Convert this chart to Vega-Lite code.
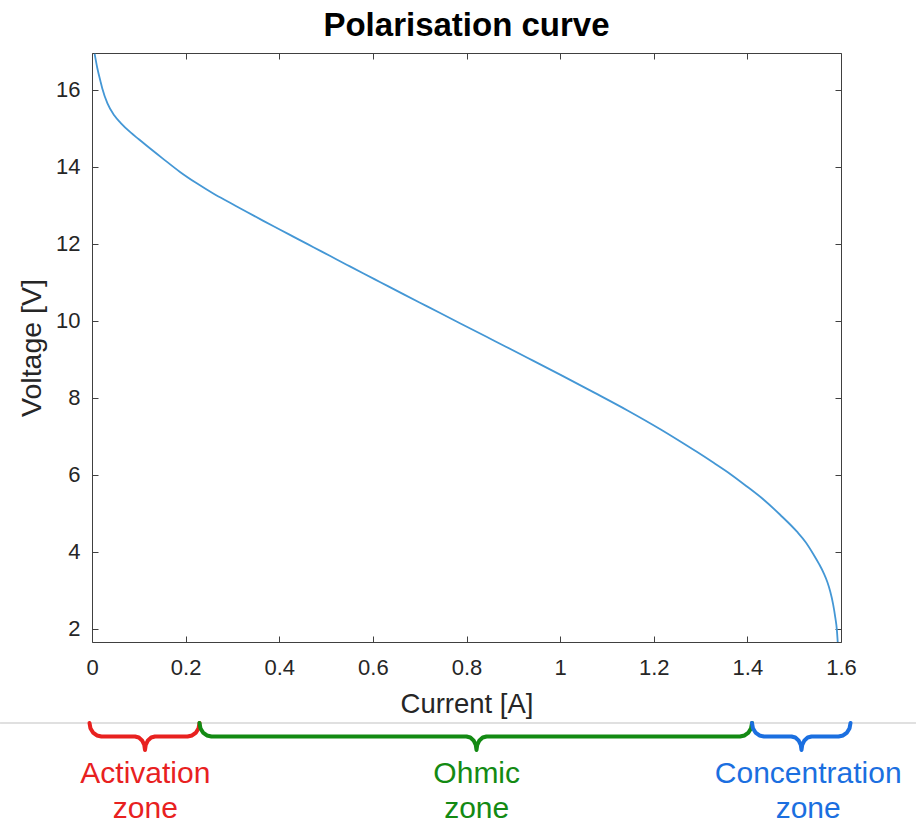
{
  "$schema": "https://vega.github.io/schema/vega-lite/v6.json",
  "width": 749,
  "height": 589,
  "autosize": {"type": "none"},
  "padding": {"left": 92, "top": 53, "right": 75, "bottom": 181},
  "background": "white",
  "title": {"text": "Polarisation curve", "font": "Liberation Sans", "fontSize": 33, "fontWeight": "bold", "color": "#000000", "anchor": "middle", "frame": "group", "baseline": "alphabetic", "offset": -16},
  "config": {
    "view": {"stroke": null},
    "axis": {"grid": false, "domainColor": "#404040", "tickColor": "#404040", "domainWidth": 1, "tickWidth": 1, "tickSize": -6, "labelFont": "Liberation Sans", "labelFontSize": 22, "labelColor": "#262626", "labelFlush": false, "titleFont": "Liberation Sans", "titleFontSize": 27.5, "titleFontWeight": "normal", "titleColor": "#262626"}
  },
  "datasets": {
    "curve": [
      {"current": 0.0056, "voltage": 16.93},
      {"current": 0.0113, "voltage": 16.56},
      {"current": 0.0184, "voltage": 16.20},
      {"current": 0.022, "voltage": 16.03},
      {"current": 0.033, "voltage": 15.64},
      {"current": 0.0474, "voltage": 15.33},
      {"current": 0.0615, "voltage": 15.13},
      {"current": 0.083, "voltage": 14.88},
      {"current": 0.100, "voltage": 14.71},
      {"current": 0.117, "voltage": 14.54},
      {"current": 0.150, "voltage": 14.22},
      {"current": 0.188, "voltage": 13.86},
      {"current": 0.223, "voltage": 13.57},
      {"current": 0.259, "voltage": 13.30},
      {"current": 0.295, "voltage": 13.06},
      {"current": 0.331, "voltage": 12.82},
      {"current": 0.366, "voltage": 12.59},
      {"current": 0.402, "voltage": 12.36},
      {"current": 0.437, "voltage": 12.135},
      {"current": 0.473, "voltage": 11.905},
      {"current": 0.509, "voltage": 11.675},
      {"current": 0.545, "voltage": 11.445},
      {"current": 0.580, "voltage": 11.222},
      {"current": 0.616, "voltage": 10.995},
      {"current": 0.666, "voltage": 10.68},
      {"current": 0.716, "voltage": 10.368},
      {"current": 0.787, "voltage": 9.925},
      {"current": 0.858, "voltage": 9.483},
      {"current": 0.930, "voltage": 9.035},
      {"current": 1.001, "voltage": 8.59},
      {"current": 1.072, "voltage": 8.135},
      {"current": 1.144, "voltage": 7.665},
      {"current": 1.215, "voltage": 7.17},
      {"current": 1.256, "voltage": 6.865},
      {"current": 1.292, "voltage": 6.59},
      {"current": 1.328, "voltage": 6.305},
      {"current": 1.364, "voltage": 6.01},
      {"current": 1.399, "voltage": 5.69},
      {"current": 1.435, "voltage": 5.345},
      {"current": 1.470, "voltage": 4.955},
      {"current": 1.506, "voltage": 4.515},
      {"current": 1.525, "voltage": 4.235},
      {"current": 1.541, "voltage": 3.93},
      {"current": 1.553, "voltage": 3.68},
      {"current": 1.563, "voltage": 3.44},
      {"current": 1.571, "voltage": 3.20},
      {"current": 1.577, "voltage": 2.96},
      {"current": 1.583, "voltage": 2.64},
      {"current": 1.588, "voltage": 2.27},
      {"current": 1.591, "voltage": 1.99},
      {"current": 1.593, "voltage": 1.65}
    ],
    "divider": [{"start": -0.1965, "end": 1.7602, "voltage": -0.4541}],
    "braces": [
      {"zone": "Activation", "order": 1, "current": -0.00534, "voltage": -0.4541},
      {"zone": "Activation", "order": 2, "current": -0.00340, "voltage": -0.5884},
      {"zone": "Activation", "order": 3, "current": 0.00216, "voltage": -0.7021},
      {"zone": "Activation", "order": 4, "current": 0.01049, "voltage": -0.7780},
      {"zone": "Activation", "order": 5, "current": 0.02029, "voltage": -0.8047},
      {"zone": "Activation", "order": 6, "current": 0.09186, "voltage": -0.8047},
      {"zone": "Activation", "order": 7, "current": 0.10004, "voltage": -0.8315},
      {"zone": "Activation", "order": 8, "current": 0.10696, "voltage": -0.9074},
      {"zone": "Activation", "order": 9, "current": 0.11160, "voltage": -1.0211},
      {"zone": "Activation", "order": 10, "current": 0.11322, "voltage": -1.1554},
      {"zone": "Activation", "order": 11, "current": 0.11484, "voltage": -1.0211},
      {"zone": "Activation", "order": 12, "current": 0.11948, "voltage": -0.9074},
      {"zone": "Activation", "order": 13, "current": 0.12640, "voltage": -0.8315},
      {"zone": "Activation", "order": 14, "current": 0.13458, "voltage": -0.8047},
      {"zone": "Activation", "order": 15, "current": 0.20401, "voltage": -0.8047},
      {"zone": "Activation", "order": 16, "current": 0.21381, "voltage": -0.7780},
      {"zone": "Activation", "order": 17, "current": 0.22214, "voltage": -0.7021},
      {"zone": "Activation", "order": 18, "current": 0.22770, "voltage": -0.5884},
      {"zone": "Activation", "order": 19, "current": 0.22964, "voltage": -0.4541},
      {"zone": "Ohmic", "order": 1, "current": 0.22964, "voltage": -0.4541},
      {"zone": "Ohmic", "order": 2, "current": 0.23158, "voltage": -0.5884},
      {"zone": "Ohmic", "order": 3, "current": 0.23714, "voltage": -0.7021},
      {"zone": "Ohmic", "order": 4, "current": 0.24547, "voltage": -0.7780},
      {"zone": "Ohmic", "order": 5, "current": 0.25527, "voltage": -0.8047},
      {"zone": "Ohmic", "order": 6, "current": 0.80000, "voltage": -0.8047},
      {"zone": "Ohmic", "order": 7, "current": 0.80818, "voltage": -0.8315},
      {"zone": "Ohmic", "order": 8, "current": 0.81510, "voltage": -0.9074},
      {"zone": "Ohmic", "order": 9, "current": 0.81974, "voltage": -1.0211},
      {"zone": "Ohmic", "order": 10, "current": 0.82136, "voltage": -1.1554},
      {"zone": "Ohmic", "order": 11, "current": 0.82298, "voltage": -1.0211},
      {"zone": "Ohmic", "order": 12, "current": 0.82762, "voltage": -0.9074},
      {"zone": "Ohmic", "order": 13, "current": 0.83454, "voltage": -0.8315},
      {"zone": "Ohmic", "order": 14, "current": 0.84273, "voltage": -0.8047},
      {"zone": "Ohmic", "order": 15, "current": 1.38425, "voltage": -0.8047},
      {"zone": "Ohmic", "order": 16, "current": 1.39405, "voltage": -0.7780},
      {"zone": "Ohmic", "order": 17, "current": 1.40238, "voltage": -0.7021},
      {"zone": "Ohmic", "order": 18, "current": 1.40793, "voltage": -0.5884},
      {"zone": "Ohmic", "order": 19, "current": 1.40988, "voltage": -0.4541},
      {"zone": "Concentration", "order": 1, "current": 1.40988, "voltage": -0.4541},
      {"zone": "Concentration", "order": 2, "current": 1.41182, "voltage": -0.5884},
      {"zone": "Concentration", "order": 3, "current": 1.41738, "voltage": -0.7021},
      {"zone": "Concentration", "order": 4, "current": 1.42571, "voltage": -0.7780},
      {"zone": "Concentration", "order": 5, "current": 1.43551, "voltage": -0.8047},
      {"zone": "Concentration", "order": 6, "current": 1.49426, "voltage": -0.8047},
      {"zone": "Concentration", "order": 7, "current": 1.50244, "voltage": -0.8315},
      {"zone": "Concentration", "order": 8, "current": 1.50936, "voltage": -0.9074},
      {"zone": "Concentration", "order": 9, "current": 1.51400, "voltage": -1.0211},
      {"zone": "Concentration", "order": 10, "current": 1.51562, "voltage": -1.1554},
      {"zone": "Concentration", "order": 11, "current": 1.51724, "voltage": -1.0211},
      {"zone": "Concentration", "order": 12, "current": 1.52188, "voltage": -0.9074},
      {"zone": "Concentration", "order": 13, "current": 1.52880, "voltage": -0.8315},
      {"zone": "Concentration", "order": 14, "current": 1.53698, "voltage": -0.8047},
      {"zone": "Concentration", "order": 15, "current": 1.59466, "voltage": -0.8047},
      {"zone": "Concentration", "order": 16, "current": 1.60446, "voltage": -0.7780},
      {"zone": "Concentration", "order": 17, "current": 1.61279, "voltage": -0.7021},
      {"zone": "Concentration", "order": 18, "current": 1.61834, "voltage": -0.5884},
      {"zone": "Concentration", "order": 19, "current": 1.62029, "voltage": -0.4541}
    ],
    "labels": [
      {"zone": "Activation", "text": "Activation", "current": 0.1139, "voltage": -2.0204},
      {"zone": "Activation", "text": "zone", "current": 0.1139, "voltage": -2.9348},
      {"zone": "Ohmic", "text": "Ohmic", "current": 0.8218, "voltage": -2.0204},
      {"zone": "Ohmic", "text": "zone", "current": 0.8218, "voltage": -2.9348},
      {"zone": "Concentration", "text": "Concentration", "current": 1.5299, "voltage": -2.0204},
      {"zone": "Concentration", "text": "zone", "current": 1.5299, "voltage": -2.9348}
    ]
  },
  "layer": [
    {
      "data": {"name": "curve"},
      "mark": {"type": "line", "color": "#4497d5", "strokeWidth": 1.8, "interpolate": "monotone", "clip": true},
      "encoding": {
        "x": {"field": "current", "type": "quantitative", "scale": {"domain": [0, 1.6], "nice": false, "zero": false},
              "axis": {"orient": "bottom", "title": "Current [A]", "values": [0, 0.2, 0.4, 0.6, 0.8, 1, 1.2, 1.4, 1.6], "format": "~g", "labelPadding": 21, "titlePadding": 12}},
        "y": {"field": "voltage", "type": "quantitative", "scale": {"domain": [1.65, 16.95], "nice": false, "zero": false},
              "axis": {"orient": "left", "title": "Voltage [V]", "titleFontSize": 28.5, "values": [2, 4, 6, 8, 10, 12, 14, 16], "labelPadding": 18, "titlePadding": 9}}
      }
    },
    {
      "data": {"name": "curve"},
      "mark": {"type": "line", "opacity": 0},
      "encoding": {
        "x": {"field": "current", "type": "quantitative", "scale": {"domain": [0, 1.6], "nice": false, "zero": false},
              "axis": {"orient": "top", "title": null, "labels": false, "values": [0, 0.2, 0.4, 0.6, 0.8, 1, 1.2, 1.4, 1.6]}},
        "y": {"field": "voltage", "type": "quantitative", "scale": {"domain": [1.65, 16.95], "nice": false, "zero": false},
              "axis": {"orient": "right", "title": null, "labels": false, "values": [2, 4, 6, 8, 10, 12, 14, 16]}}
      }
    },
    {
      "data": {"name": "divider"},
      "mark": {"type": "rule", "color": "#c2c2c2", "strokeWidth": 1.2},
      "encoding": {
        "x": {"field": "start", "type": "quantitative", "scale": {"domain": [0, 1.6], "nice": false, "zero": false}, "axis": null},
        "x2": {"field": "end"},
        "y": {"field": "voltage", "type": "quantitative", "scale": {"domain": [1.65, 16.95], "nice": false, "zero": false}, "axis": null}
      }
    },
    {
      "data": {"name": "braces"},
      "mark": {"type": "line", "strokeWidth": 4, "strokeCap": "round", "strokeJoin": "round", "interpolate": "linear"},
      "encoding": {
        "x": {"field": "current", "type": "quantitative", "scale": {"domain": [0, 1.6], "nice": false, "zero": false}, "axis": null},
        "y": {"field": "voltage", "type": "quantitative", "scale": {"domain": [1.65, 16.95], "nice": false, "zero": false}, "axis": null},
        "color": {"field": "zone", "type": "nominal", "scale": {"domain": ["Activation", "Ohmic", "Concentration"], "range": ["#e8211f", "#138a13", "#1b6fe0"]}, "legend": null},
        "order": {"field": "order", "type": "quantitative"}
      }
    },
    {
      "data": {"name": "labels"},
      "mark": {"type": "text", "font": "Liberation Sans", "fontSize": 30, "align": "center", "baseline": "alphabetic"},
      "encoding": {
        "x": {"field": "current", "type": "quantitative", "scale": {"domain": [0, 1.6], "nice": false, "zero": false}, "axis": null},
        "y": {"field": "voltage", "type": "quantitative", "scale": {"domain": [1.65, 16.95], "nice": false, "zero": false}, "axis": null},
        "text": {"field": "text"},
        "color": {"field": "zone", "type": "nominal", "scale": {"domain": ["Activation", "Ohmic", "Concentration"], "range": ["#e8211f", "#138a13", "#1b6fe0"]}, "legend": null}
      }
    }
  ],
  "resolve": {"axis": {"x": "independent", "y": "independent"}}
}
